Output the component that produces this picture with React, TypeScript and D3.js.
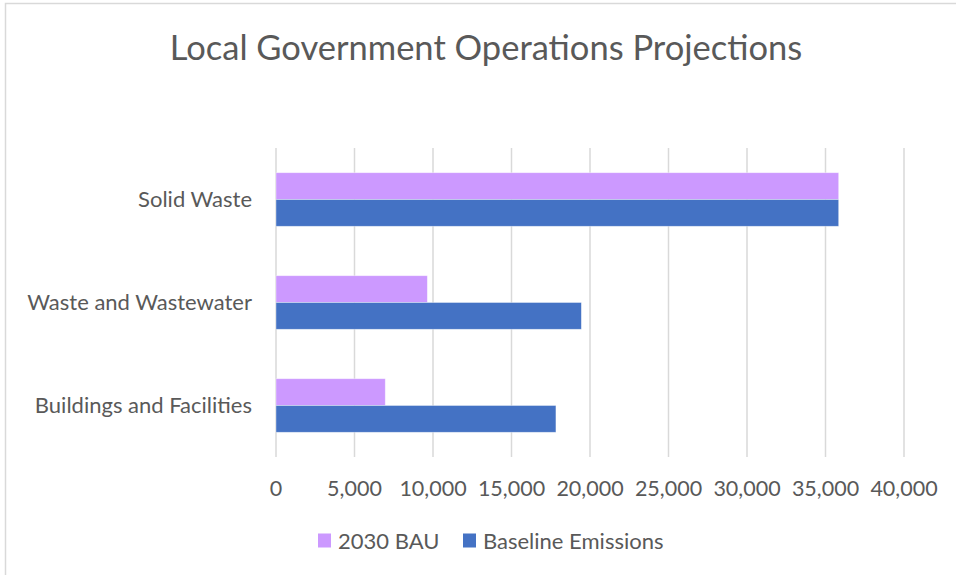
// App.tsx
import React from "react";
import * as d3 from "d3";

const categories = ["Solid Waste", "Waste and Wastewater", "Buildings and Facilities"];
const seriesNames = ["2030 BAU", "Baseline Emissions"];
const bau2030 = [35840, 9640, 6960];
const baseline = [35840, 19450, 17830];
const xTicks = [0, 5000, 10000, 15000, 20000, 25000, 30000, 35000, 40000];

const colors = ["#CC99FF", "#4472C4"];
const textColor = "#595959";
const gridColor = "#D9D9D9";
const font = "Lato, 'Open Sans', sans-serif";

const width = 956;
const height = 575;
const margin = { top: 148, right: 52, bottom: 118, left: 276 };

function App() {
  const x = d3
    .scaleLinear()
    .domain([0, 40000])
    .range([margin.left, width - margin.right]);

  const y = d3
    .scaleBand()
    .domain(categories)
    .range([margin.top, height - margin.bottom])
    .paddingInner(0.48)
    .paddingOuter(0.24);

  const inner = d3
    .scaleBand()
    .domain(seriesNames)
    .range([0, y.bandwidth()]);

  const values = [bau2030, baseline];
  const fmt = d3.format(",");

  return (
    <svg
      width={width}
      height={height}
      style={{ position: "absolute", left: 0, top: 0, background: "#fff" }}
    >
      {/* chart frame */}
      <rect x={5.5} y={3.5} width={width} height={height} fill="#fff" stroke={gridColor} strokeWidth={1.5} />

      {/* Title */}
      <text
        x={486}
        y={60}
        textAnchor="middle"
        fontFamily={font}
        fontSize={34.5}
        fill={textColor}
      >
        Local Government Operations Projections
      </text>

      {/* gridlines */}
      {xTicks.map((t) => (
        <line
          key={t}
          x1={x(t)}
          x2={x(t)}
          y1={margin.top}
          y2={height - margin.bottom}
          stroke={gridColor}
          strokeWidth={1.5}
        />
      ))}

      {/* bars */}
      {seriesNames.map((s, si) =>
        categories.map((c, ci) => (
          <rect
            key={s + c}
            x={x(0)}
            y={(y(c) ?? 0) + (inner(s) ?? 0)}
            width={x(values[si][ci]) - x(0)}
            height={inner.bandwidth()}
            fill={colors[si]}
            stroke="#ffffff"
            strokeOpacity={0.5}
            strokeWidth={0.75}
          />
        ))
      )}

      {/* category labels */}
      {categories.map((c) => (
        <text
          key={c}
          x={252}
          y={(y(c) ?? 0) + y.bandwidth() / 2}
          dy="0.35em"
          textAnchor="end"
          fontFamily={font}
          fontSize={22}
          fill={textColor}
        >
          {c}
        </text>
      ))}

      {/* x tick labels */}
      {xTicks.map((t) => (
        <text
          key={t}
          x={x(t)}
          y={488.5}
          dy="0.35em"
          textAnchor="middle"
          fontFamily={font}
          fontSize={21.5}
          fill={textColor}
        >
          {fmt(t)}
        </text>
      ))}

      {/* legend */}
      <g fontFamily={font} fontSize={22} fill={textColor}>
        <rect x={318} y={533.5} width={13} height={14} fill={colors[0]} />
        <text x={338} y={540.8} dy="0.35em">{seriesNames[0]}</text>
        <rect x={463} y={533.5} width={13} height={14} fill={colors[1]} />
        <text x={483} y={540.8} dy="0.35em">{seriesNames[1]}</text>
      </g>
    </svg>
  );
}

export default App;
